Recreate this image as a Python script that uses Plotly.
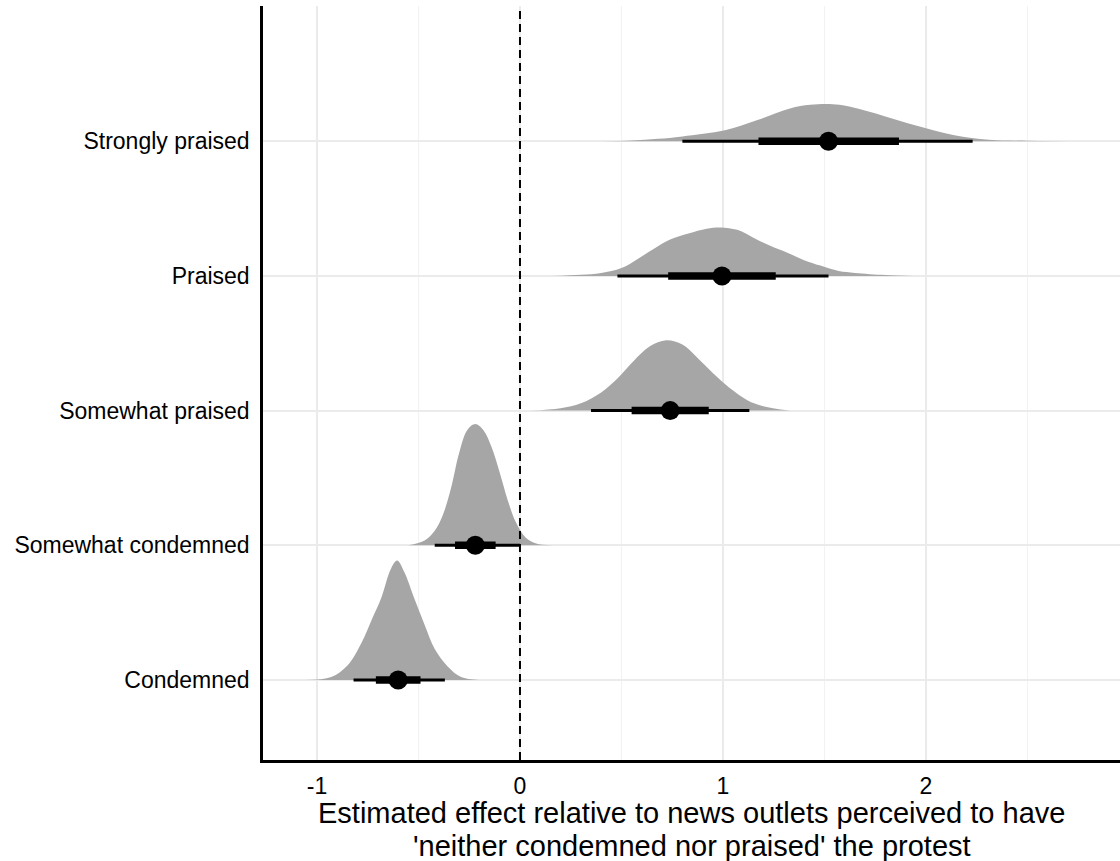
import plotly.graph_objects as go

# ---- data ----
categories = ["Condemned", "Somewhat condemned", "Somewhat praised", "Praised", "Strongly praised"]
medians = [-0.60, -0.22, 0.74, 0.995, 1.52]
ci66_lo = [-0.71, -0.32, 0.55, 0.73, 1.175]
ci66_hi = [-0.49, -0.12, 0.93, 1.26, 1.867]
ci95_lo = [-0.82, -0.42, 0.35, 0.48, 0.80]
ci95_hi = [-0.37, 0.00, 1.13, 1.52, 2.23]

# density profiles: x grid and relative height (1 = tallest slab)
dens_x_condemned = [-1.06, -0.93, -0.85, -0.78, -0.73, -0.685, -0.635, -0.605, -0.57, -0.52, -0.47, -0.42, -0.355, -0.29, -0.20]
dens_h_condemned = [0.0, 0.025, 0.12, 0.31, 0.50, 0.67, 0.92, 0.985, 0.89, 0.67, 0.455, 0.255, 0.11, 0.025, 0.0]

dens_x_somecond = [-0.55, -0.47, -0.42, -0.38, -0.34, -0.30, -0.26, -0.22, -0.18, -0.14, -0.10, -0.06, -0.02, 0.03, 0.08, 0.16]
dens_h_somecond = [0.0, 0.04, 0.12, 0.25, 0.47, 0.76, 0.95, 1.0, 0.95, 0.81, 0.60, 0.37, 0.19, 0.06, 0.015, 0.0]

dens_x_someprai = [0.05, 0.20, 0.30, 0.40, 0.48, 0.56, 0.64, 0.72, 0.80, 0.89, 0.97, 1.05, 1.12, 1.19, 1.33]
dens_h_someprai = [0.0, 0.02, 0.06, 0.15, 0.265, 0.41, 0.53, 0.58, 0.545, 0.41, 0.28, 0.165, 0.085, 0.04, 0.0]

dens_x_praised = [0.16, 0.30, 0.40, 0.50, 0.58, 0.66, 0.74, 0.83, 0.92, 0.99, 1.07, 1.15, 1.23, 1.32, 1.40, 1.48, 1.57, 1.65, 1.80, 1.94]
dens_h_praised = [0.0, 0.01, 0.025, 0.065, 0.14, 0.225, 0.30, 0.35, 0.39, 0.40, 0.38, 0.315, 0.25, 0.19, 0.13, 0.085, 0.04, 0.025, 0.008, 0.0]

dens_x_strong = [0.40, 0.55, 0.68, 0.80, 1.01, 1.17, 1.33, 1.43, 1.54, 1.61, 1.78, 1.96, 2.14, 2.31, 2.50, 2.81]
dens_h_strong = [0.0, 0.006, 0.02, 0.04, 0.09, 0.175, 0.27, 0.30, 0.305, 0.29, 0.215, 0.125, 0.05, 0.012, 0.004, 0.0]

dens_x = [dens_x_condemned, dens_x_somecond, dens_x_someprai, dens_x_praised, dens_x_strong]
dens_h = [dens_h_condemned, dens_h_somecond, dens_h_someprai, dens_h_praised, dens_h_strong]

x_ticks = [-1, 0, 1, 2]
ref_line = 0
slab_scale = 0.9

x_title_1 = "Estimated effect relative to news outlets perceived to have"
x_title_2 = "'neither condemned nor praised' the protest"

# ---- figure ----
FONT = "Liberation Sans, Arial, sans-serif"
SLAB = "#a6a6a6"

fig = go.Figure()
ypos = list(range(1, len(categories) + 1))

for k, yk in enumerate(ypos):
    xs = dens_x[k]
    hs = dens_h[k]
    fig.add_trace(go.Scatter(x=xs, y=[yk] * len(xs), mode="lines",
                             line=dict(width=0, color=SLAB), hoverinfo="skip", showlegend=False))
    fig.add_trace(go.Scatter(x=xs, y=[yk + slab_scale * h for h in hs], mode="lines",
                             line=dict(width=0, color=SLAB, shape="spline", smoothing=1.0),
                             fill="tonexty", fillcolor=SLAB, hoverinfo="skip", showlegend=False))

for k, yk in enumerate(ypos):
    fig.add_trace(go.Scatter(x=[ci95_lo[k], ci95_hi[k]], y=[yk, yk], mode="lines",
                             line=dict(color="black", width=3), showlegend=False, hoverinfo="skip"))
    fig.add_trace(go.Scatter(x=[ci66_lo[k], ci66_hi[k]], y=[yk, yk], mode="lines",
                             line=dict(color="black", width=7.5), showlegend=False, hoverinfo="skip"))
    fig.add_trace(go.Scatter(x=[medians[k]], y=[yk], mode="markers",
                             marker=dict(color="black", size=19), showlegend=False))

fig.add_shape(type="line", x0=ref_line, x1=ref_line, y0=0, y1=1, xref="x", yref="y domain",
              line=dict(color="black", width=2, dash="8px,5px"), layer="above")

fig.add_annotation(text=x_title_1, x=0.5, xref="paper", y=-0.0703, yref="paper",
                   showarrow=False, yanchor="middle", font=dict(size=29, color="black", family=FONT))
fig.add_annotation(text=x_title_2, x=0.5, xref="paper", y=-0.1141, yref="paper",
                   showarrow=False, yanchor="middle", font=dict(size=29, color="black", family=FONT))

fig.update_layout(
    width=1120, height=861,
    margin=dict(l=263, r=0, t=6, b=101),
    paper_bgcolor="white", plot_bgcolor="white",
    font=dict(family=FONT, color="black"),
    showlegend=False,
)
fig.update_xaxes(
    range=[-1.266, 2.956], tickvals=x_ticks, ticktext=[str(v) for v in x_ticks],
    showgrid=True, gridcolor="#ebebeb", gridwidth=2,
    minor=dict(dtick=0.5, tick0=0, showgrid=True, gridcolor="#f2f2f2", gridwidth=1.2),
    zeroline=False, showline=True, linecolor="black", linewidth=2.5,
    ticks="outside", ticklen=4, tickcolor="rgba(0,0,0,0)",
    tickfont=dict(size=23, color="black", family=FONT),
)
fig.update_yaxes(
    range=[0.406, 6.004], tickvals=ypos, ticktext=categories,
    showgrid=True, gridcolor="#ebebeb", gridwidth=2,
    zeroline=False, showline=True, linecolor="black", linewidth=2.5,
    ticks="outside", ticklen=6, tickcolor="rgba(0,0,0,0)",
    tickfont=dict(size=23, color="black", family=FONT),
)

fig.write_html("out.html")
